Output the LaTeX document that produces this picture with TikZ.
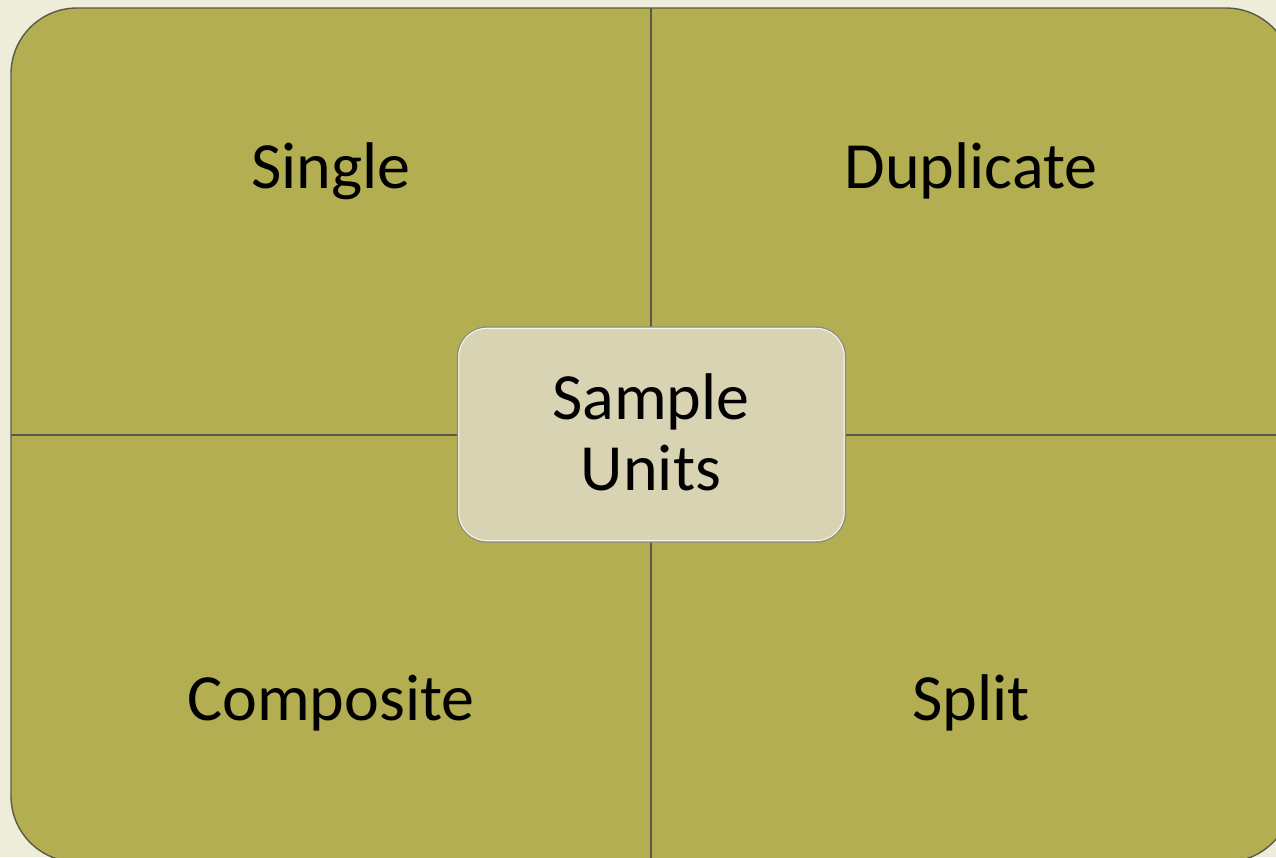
\documentclass[tikz,border=0pt]{standalone}
\usepackage{fontspec}
\setmainfont{Carlito}
\definecolor{pagebg}{HTML}{EDEDD9}
\definecolor{olivefill}{HTML}{B3AE51}
\definecolor{centrefill}{HTML}{D8D4B3}
\definecolor{rulecol}{HTML}{5A5A46}
\tikzset{
  quadlabel/.style={anchor=base, font=\fontsize{66}{70}\selectfont, text=black, inner sep=0pt},
  divider/.style={draw=rulecol, line width=1.4pt},
  hub/.style={draw=rulecol!70, line width=1.4pt, fill=centrefill, rounded corners=30pt,
    minimum width=388pt, minimum height=215pt, inner sep=0pt},
  hublabel/.style={align=center, font=\fontsize{66}{71}\selectfont, inner sep=0pt},
}
\begin{document}
\begin{tikzpicture}[x=1pt,y=-1pt]
  \useasboundingbox (0,0) rectangle (1276,857);
  \fill[pagebg] (0,0) rectangle (1276,857);
  \begin{scope}
    \clip (0,0) rectangle (1276,857);
    % outer rounded panel, running past the right and bottom edges
    \draw[divider, fill=olivefill, rounded corners=66pt] (11,8) rectangle (1292,862);
    % quadrant dividers
    \coordinate (vtop) at (651,8);
    \coordinate (vbot) at (651,862);
    \coordinate (hleft) at (11,435);
    \coordinate (hright) at (1292,435);
    \draw[divider] (vtop) -- (vbot);
    \draw[divider] (hleft) -- (hright);
  \end{scope}
  % quadrant labels
  \node[quadlabel] (single) at (331,188) {Single};
  \node[quadlabel] (duplicate) at (971,188) {Duplicate};
  \node[quadlabel] (composite) at (331,720) {Composite};
  \node[quadlabel] (split) at (971,720) {Split};
  % central box
  \node[hub] (centre) at (651.5,434.5) {};
  \draw[white!80!centrefill, line width=1pt, rounded corners=28pt]
    ([xshift=2pt,yshift=-2pt]centre.north west) rectangle ([xshift=-2pt,yshift=2pt]centre.south east);
  \node[hublabel] (centretext) at (651,432) {Sample\\Units};
\end{tikzpicture}
\end{document}
